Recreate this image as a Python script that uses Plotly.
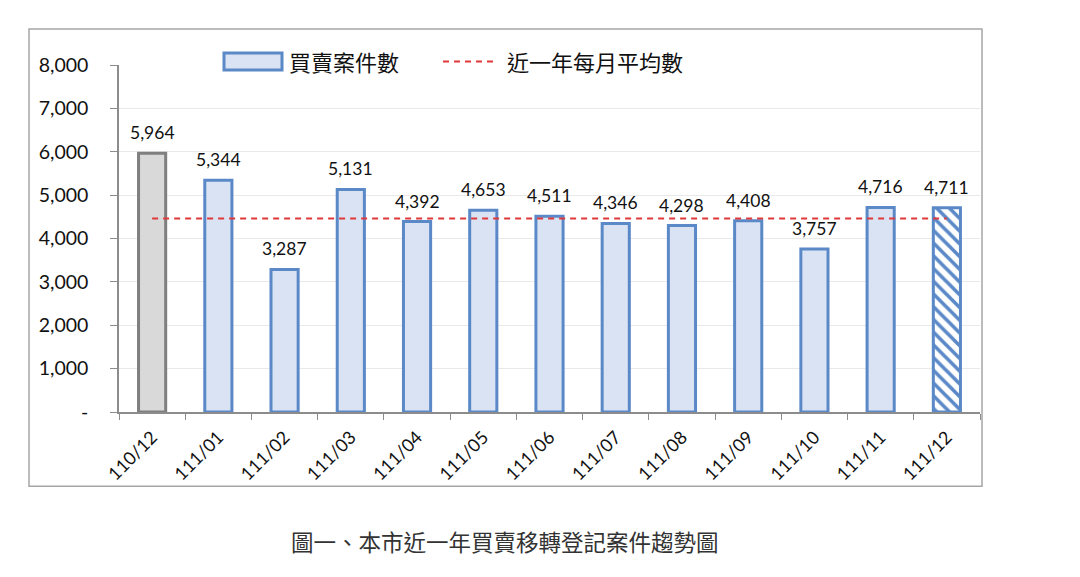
import plotly.graph_objects as go

categories = ["110/12", "111/01", "111/02", "111/03", "111/04", "111/05", "111/06",
              "111/07", "111/08", "111/09", "111/10", "111/11", "111/12"]
values = [5964, 5344, 3287, 5131, 4392, 4653, 4511, 4346, 4298, 4408, 3757, 4716, 4711]
avg_value = 4463
y_tickvals = [0, 1000, 2000, 3000, 4000, 5000, 6000, 7000, 8000]
y_ticktext = ["-", "1,000", "2,000", "3,000", "4,000", "5,000", "6,000", "7,000", "8,000"]
legend_bar = "買賣案件數"
legend_line = "近一年每月平均數"
caption = "圖一、本市近一年買賣移轉登記案件趨勢圖"

BLUE = "#5b89c8"
FILL = "#dae3f3"
NUM_FONT = "Lato, 'Noto Sans', sans-serif"
CJK_FONT = "'Noto Sans CJK TC', 'Noto Sans CJK SC', sans-serif"

fills = ["#d9d9d9"] + [FILL] * (len(values) - 2)
lines = ["#7f7f7f"] + [BLUE] * (len(values) - 2)

fig = go.Figure()
fig.add_trace(go.Bar(
    x=categories[:-1], y=values[:-1], width=0.41,
    marker=dict(color=fills, line=dict(color=lines, width=3)),
    showlegend=False, hoverinfo="skip",
))
fig.add_trace(go.Bar(
    x=categories[-1:], y=values[-1:], width=0.41,
    marker=dict(color="white", line=dict(color=BLUE, width=3),
                pattern=dict(shape="\\", fgcolor=BLUE, bgcolor="white",
                             size=9, solidity=0.4, fillmode="replace")),
    showlegend=False, hoverinfo="skip",
))
fig.add_trace(go.Scatter(
    x=categories, y=[avg_value] * len(categories), mode="lines",
    line=dict(color="#e0393b", width=2, dash="6px,5px"),
    showlegend=False, hoverinfo="skip",
))

for c, v in zip(categories, values):
    fig.add_annotation(x=c, y=v, text=f"{v:,}", showarrow=False, yanchor="bottom",
                       yshift=8, font=dict(family=NUM_FONT, size=17.5, color="#111"))

PL, PR, PT, PB = 119, 980, 65, 411.7
W, H = PR - PL, PB - PT

def px(x):
    return (x - PL) / W

def py(y):
    return (PB - y) / H

shapes = [
    dict(type="rect", xref="paper", yref="paper", x0=px(29), x1=px(982), y0=py(486), y1=py(29),
         line=dict(color="#a6a6a6", width=1.5), fillcolor="rgba(0,0,0,0)", layer="below"),
    dict(type="rect", xref="paper", yref="paper", x0=px(224), x1=px(282), y0=py(70), y1=py(53),
         line=dict(color=BLUE, width=3), fillcolor=FILL),
    dict(type="line", xref="paper", yref="paper", x0=px(443), x1=px(497), y0=py(61.5), y1=py(61.5),
         line=dict(color="#e0393b", width=2, dash="6px,5px")),
]
fig.add_annotation(xref="paper", yref="paper", x=px(287), y=py(61.5), xanchor="left", yanchor="middle",
                   text=legend_bar, showarrow=False, font=dict(family=CJK_FONT, size=22, color="#111"))
fig.add_annotation(xref="paper", yref="paper", x=px(505), y=py(61.5), xanchor="left", yanchor="middle",
                   text=legend_line, showarrow=False, font=dict(family=CJK_FONT, size=22, color="#111"))
fig.add_annotation(xref="paper", yref="paper", x=px(505), y=py(541), xanchor="center", yanchor="middle",
                   text=caption, showarrow=False, font=dict(family=CJK_FONT, size=22.5, color="#333"))

fig.update_layout(
    width=1080, height=577,
    margin=dict(l=PL, r=1080 - PR, t=PT, b=577 - PB, autoexpand=False),
    paper_bgcolor="white", plot_bgcolor="white",
    barmode="overlay",
    shapes=shapes,
    xaxis=dict(type="category", categoryorder="array", categoryarray=categories,
               showline=True, linecolor="#8c8c8c", linewidth=1.5,
               ticks="outside", ticklen=6, tickcolor="#8c8c8c", tickson="boundaries",
               tickangle=-45, tickfont=dict(family=NUM_FONT, size=18, color="#111"),
               ticklabelstandoff=6, showgrid=False, range=[-0.5, len(categories) - 0.5]),
    yaxis=dict(range=[0, 8000], tickvals=y_tickvals, ticktext=y_ticktext,
               showline=True, linecolor="#8c8c8c", linewidth=1.5,
               ticks="outside", ticklen=7, tickcolor="#8c8c8c",
               showgrid=True, gridcolor="#e9e9e9", gridwidth=1, zeroline=False,
               tickfont=dict(family=NUM_FONT, size=19.5, color="#111"), ticklabelstandoff=18),
)

fig.write_html("out.html")
